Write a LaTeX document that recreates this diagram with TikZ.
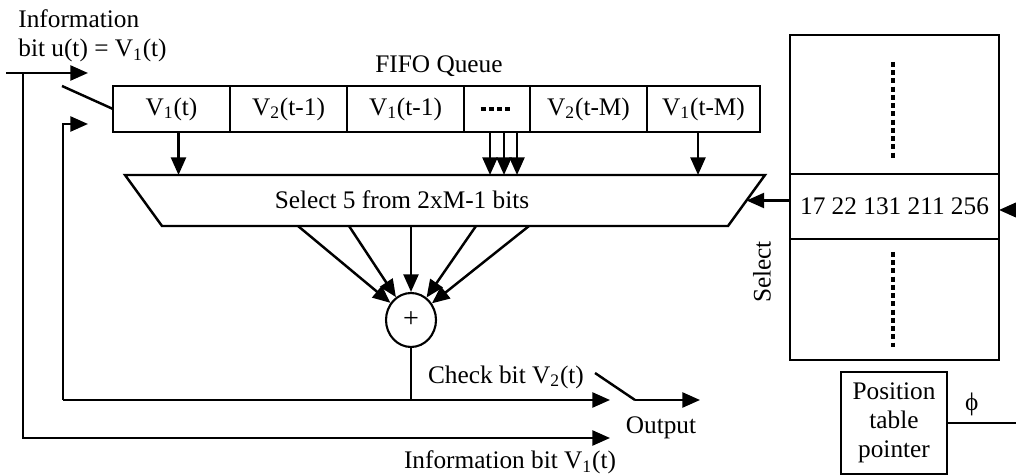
\documentclass[tikz,border=0pt]{standalone}
\usepackage{fontspec}
\setmainfont{Liberation Serif}
\usetikzlibrary{arrows.meta, positioning, shapes.geometric, calc}

\newcommand{\vsub}[1]{V\textsubscript{#1}}

\begin{document}
\begin{tikzpicture}[x=0.02cm, y=-0.02cm, font=\fontsize{14.4}{16.5}\selectfont,
    >={Triangle[length=10pt, width=8.5pt]},
    wire/.style={line width=1.4pt},
    cell/.style={draw, line width=0.9pt, inner sep=0pt, outer sep=0pt, minimum height=0.92cm, anchor=west},
    tabcell/.style={draw, line width=1.3pt, inner sep=0pt, outer sep=0pt, minimum width=4.18cm, anchor=north},
    dotline/.style={line width=0.09cm, dash pattern=on 0.1cm off 0.065cm}]
\useasboundingbox (0,0) rectangle (1016,475);

% FIFO queue
\foreach \xa/\xb/\lab [count=\i] in {%
    113/230/\vsub{1}(t),
    230/347/\vsub{2}(t-1),
    347/464/\vsub{1}(t-1),
    464/530/{},
    530/647/\vsub{2}(t-M),
    647/760/\vsub{1}(t-M)
} {
    \node[cell, minimum width={(\xb-\xa)*0.02cm}] (q\i) at (\xa,109) {\lab};
}
\draw[dotline] ([xshift=-0.33cm]q4.center) -- ([xshift=0.265cm]q4.center);
\node (fifo) at (439,66) {FIFO Queue};

% selector
\coordinate (seltl) at (125,175);
\coordinate (seltr) at (765,175);
\coordinate (selbr) at (728,226);
\coordinate (selbl) at (162,226);
\draw[wire, line join=miter] (seltl) -- (seltr) -- (selbr) -- (selbl) -- cycle;
\node (sel) at (402,200) {Select 5 from 2xM-1 bits};
\coordinate (selin) at ($(seltr)!0.5!(selbr)$);

\draw[wire, ->] ([xshift=0.14cm]q1.south) -- ([xshift=0.14cm]q1.south |- seltl);
\foreach \dx in {-0.14, 0.14, 0.4} {
    \draw[wire, ->] ([xshift=\dx cm]q4.south) -- ([xshift=\dx cm]q4.south |- seltl);
}
\draw[wire, ->] ([xshift=-0.11cm]q6.south) -- ([xshift=-0.11cm]q6.south |- seltl);

% modulo-2 sum
\node[ellipse, draw, line width=1.2pt, minimum width=1cm, minimum height=1.08cm, inner sep=0pt,
    font=\fontsize{16}{17}\selectfont] (sum) at (411,320) {+};
\foreach \x [count=\i] in {298,349,411,476,529} {
    \coordinate (tap\i) at (\x,226);
    \draw[wire, ->] (tap\i) -- (sum);
}

% position table
\node[tabcell, minimum height=2.78cm] (tabtop) at (894.5,35) {};
\node[tabcell, minimum height=1.3cm] (tabrow) at (tabtop.south) {17 22 131 211 256};
\node[tabcell, minimum height=2.42cm] (tabbot) at (tabrow.south) {};
\draw[dotline] (893,62) -- (893,160);
\draw[dotline] (893,252) -- (893,347);
\node[rotate=90] (sellab) at (762,272) {Select};
\draw[wire, ->] (selin -| tabrow.west) -- (selin);
\coordinate (ptrin) at (1016,210);
\draw[wire, ->] (ptrin) -- (ptrin -| tabrow.east);

\node[draw, line width=1pt, align=center, minimum width=2.12cm, minimum height=2.04cm, inner sep=0pt] (ptrbox) at (894,423) {Position\\table\\pointer};
\coordinate (phiend) at (1016,423);
\draw[line width=1pt] (ptrbox.east) -- (phiend) node[pos=0.35, above] {\symbol{"03D5}};

% check bit loop
\coordinate (chkL) at (63,400);
\coordinate (chkR) at (610,400);
\coordinate (fbtip) at (88,124);
\draw[line width=0.8pt] (sum.south) -- (sum.south |- chkL);
\draw[wire, ->] (chkL) -- (chkR);
\draw[wire, ->] (chkL) |- (fbtip);
\node (chklab) at (506,377) {Check bit \vsub{2}(t)};

% output switch
\coordinate (osw1) at (595,373);
\coordinate (osw2) at (635,400);
\coordinate (outR) at (700,400);
\draw[wire] (osw1) -- (osw2);
\draw[wire, ->] (osw2) -- (outR);
\node (outlab) at (661,428) {Output};

% information bit
\coordinate (inL) at (6,73);
\coordinate (inTip) at (88,73);
\coordinate (inJ) at (23,73);
\coordinate (infR) at (610,438);
\draw[wire, ->] (inL) -- (inTip);
\draw[wire, ->] (inJ) |- (infR);
\node (inflab) at (510,462) {Information bit \vsub{1}(t)};
\node[align=left, anchor=west, inner sep=0pt] (inlab) at (18,36) {Information\\bit u(t) = \vsub{1}(t)};

% input switch
\coordinate (isw) at (62,86);
\draw[wire] (isw) -- (q1.west);
\end{tikzpicture}
\end{document}
